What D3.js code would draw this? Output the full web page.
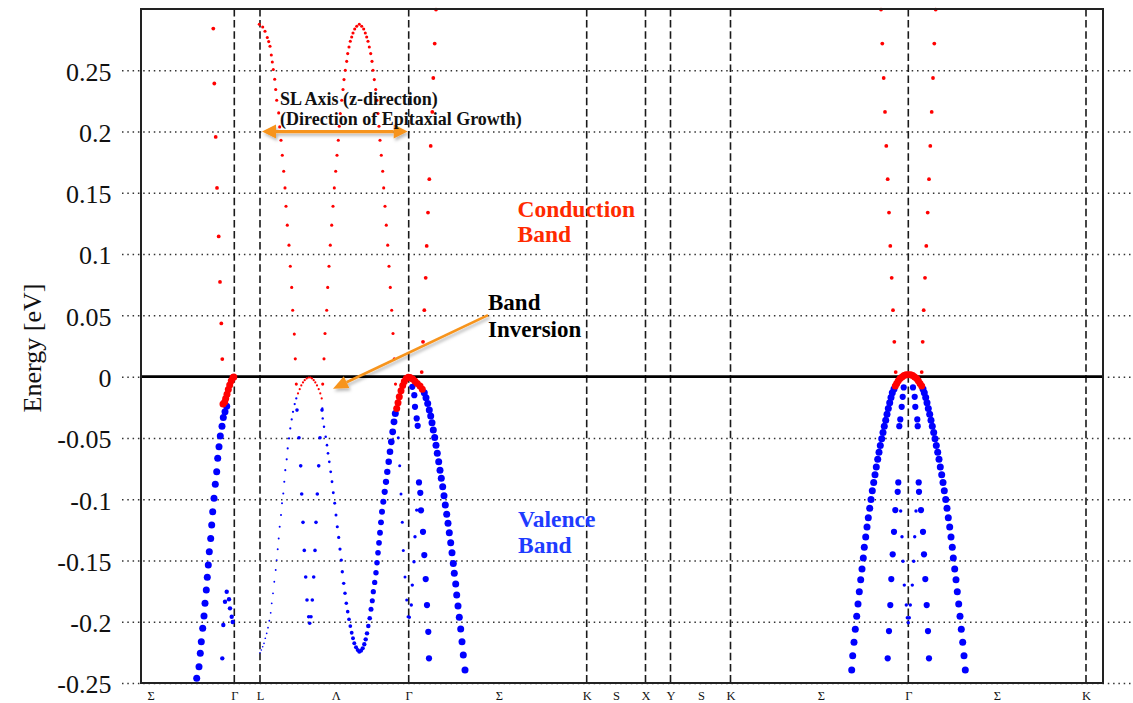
<!DOCTYPE html>
<html>
<head>
<meta charset="utf-8">
<script src="https://cdn.jsdelivr.net/npm/d3@7"></script>
<style>
  html, body { margin: 0; padding: 0; background: #fff; }
  svg { display: block; font-family: "Liberation Serif", "Times New Roman", serif; }
  svg text { font-family: "Liberation Serif", "Times New Roman", serif; }
</style>
</head>
<body>
<svg id="chart" width="1133" height="703"></svg>
<script>
// ---- k-path (arbitrary path units) and energy axis ----
const kRange = [0, 9.62];
const energyRange = [-0.25, 0.30];
const pathLabels = ["Σ", "Γ", "L", "Λ", "Γ", "Σ", "K", "S", "X", "Y", "S", "K", "Σ", "Γ", "Σ", "K"];
const pathLabelK = [0.097, 0.933, 1.19, 1.947, 2.677, 3.58, 4.457, 4.75, 5.045, 5.295, 5.6, 5.895, 6.8, 7.673, 8.56, 9.45];
const symmetryK = [0.933, 1.19, 2.677, 4.457, 5.045, 5.295, 5.895, 7.673, 9.45];
const energyTicks = [-0.25, -0.2, -0.15, -0.1, -0.05, 0, 0.05, 0.1, 0.15, 0.2, 0.25];
const energyTickLabels = ["-0.25", "-0.2", "-0.15", "-0.1", "-0.05", "0", "0.05", "0.1", "0.15", "0.2", "0.25"];

// ---- band points [k, E(eV)] ----
// first Γ
const vbGamma1 = [[0.557,-0.2462],[0.580,-0.2367],[0.593,-0.2258],[0.603,-0.2163],[0.617,-0.2054],[0.630,-0.1953],[0.640,-0.1850],[0.653,-0.1741],[0.663,-0.1638],[0.673,-0.1538],[0.683,-0.1429],[0.697,-0.1320],[0.707,-0.1211],[0.717,-0.1103],[0.730,-0.0993],[0.743,-0.0879],[0.757,-0.0777],[0.767,-0.0667],[0.780,-0.0573],[0.793,-0.0485],[0.810,-0.0404],[0.823,-0.0333],[0.840,-0.0287],[0.857,-0.0241]];
const capGamma1 = [[0.820,-0.0224],[0.837,-0.0206],[0.847,-0.0178],[0.860,-0.0143],[0.873,-0.0104],[0.887,-0.0069],[0.903,-0.0034],[0.920,-0.0007],[0.928,-0.0002]];
const innerGamma1 = [[0.857,-0.1755],[0.880,-0.1817],[0.840,-0.1837],[0.890,-0.1891],[0.907,-0.1959],[0.917,-0.2002],[0.823,-0.2027],[0.813,-0.2299]];
const cbGamma1 = [[0.723,0.2840],[0.733,0.2392],[0.747,0.1956],[0.760,0.1540],[0.777,0.1144],[0.790,0.0773],[0.803,0.0434],[0.813,0.0143]];

// L – Λ – Γ (superlattice axis)
const cbFromL = [[1.183,0.2875],[1.217,0.2853],[1.240,0.2818],[1.263,0.2767],[1.277,0.2734],[1.290,0.2696],[1.303,0.2625],[1.313,0.2568],[1.323,0.2506],[1.337,0.2427],[1.347,0.2343],[1.357,0.2255],[1.377,0.2152],[1.387,0.2038],[1.400,0.1929],[1.413,0.1807],[1.427,0.1676],[1.440,0.1540],[1.450,0.1391],[1.463,0.1236],[1.480,0.1073],[1.493,0.0901],[1.507,0.0728],[1.517,0.0542],[1.533,0.0347],[1.543,0.0145],[1.553,-0.0061]];
const cbHump = [[1.817,-0.0061],[1.830,0.0145],[1.840,0.0352],[1.857,0.0542],[1.867,0.0728],[1.880,0.0901],[1.893,0.1073],[1.907,0.1236],[1.920,0.1391],[1.933,0.1540],[1.947,0.1676],[1.960,0.1807],[1.973,0.1929],[1.983,0.2043],[1.993,0.2147],[2.007,0.2255],[2.020,0.2343],[2.030,0.2424],[2.043,0.2500],[2.057,0.2573],[2.067,0.2636],[2.080,0.2690],[2.093,0.2737],[2.107,0.2772],[2.120,0.2804],[2.137,0.2837],[2.157,0.2859],[2.183,0.2875],[2.207,0.2859],[2.227,0.2837],[2.243,0.2804],[2.257,0.2772],[2.270,0.2737],[2.283,0.2690],[2.297,0.2636],[2.310,0.2573],[2.320,0.2500],[2.333,0.2424],[2.347,0.2343],[2.360,0.2255],[2.370,0.2147],[2.380,0.2043],[2.390,0.1929],[2.403,0.1807],[2.417,0.1676],[2.427,0.1540],[2.440,0.1391],[2.453,0.1236],[2.467,0.1073],[2.480,0.0901],[2.493,0.0728],[2.507,0.0542],[2.520,0.0352],[2.533,0.0145],[2.545,-0.0061]];
const vbThinL = [[1.190,-0.2253],[1.203,-0.2231],[1.217,-0.2204],[1.230,-0.2176],[1.243,-0.2135],[1.257,-0.2095],[1.270,-0.2049],[1.283,-0.1992],[1.297,-0.1927],[1.307,-0.1850],[1.320,-0.1768],[1.333,-0.1674],[1.347,-0.1578],[1.357,-0.1497],[1.367,-0.1409],[1.377,-0.1320],[1.387,-0.1225],[1.400,-0.1130],[1.410,-0.1034],[1.423,-0.0953],[1.433,-0.0858],[1.443,-0.0763],[1.457,-0.0675],[1.467,-0.0586],[1.480,-0.0504],[1.493,-0.0423],[1.507,-0.0349],[1.520,-0.0287],[1.537,-0.0224],[1.553,-0.0178]];
const capHump = [[1.570,-0.0137],[1.587,-0.0102],[1.603,-0.0072],[1.620,-0.0047],[1.637,-0.0029],[1.657,-0.0015],[1.677,-0.0007],[1.693,-0.0007],[1.710,-0.0015],[1.727,-0.0029],[1.743,-0.0047],[1.760,-0.0072],[1.777,-0.0102],[1.793,-0.0137],[1.807,-0.0178]];
const vbThinR = [[1.813,-0.0260],[1.817,-0.0341],[1.830,-0.0409],[1.847,-0.0491],[1.860,-0.0559],[1.870,-0.0626],[1.883,-0.0695],[1.897,-0.0777],[1.910,-0.0858],[1.923,-0.0948],[1.937,-0.1034],[1.950,-0.1130],[1.963,-0.1225],[1.977,-0.1312],[1.990,-0.1407],[2.003,-0.1497],[2.013,-0.1592],[2.027,-0.1687],[2.040,-0.1768],[2.053,-0.1850],[2.067,-0.1918],[2.080,-0.1980],[2.093,-0.2035],[2.107,-0.2090],[2.120,-0.2135],[2.133,-0.2176],[2.150,-0.2209],[2.167,-0.2231],[2.183,-0.2245],[2.200,-0.2237],[2.217,-0.2217],[2.233,-0.2184],[2.247,-0.2144],[2.260,-0.2095],[2.273,-0.2035],[2.287,-0.1972]];
const humpPairs = [[1.560,-0.0273],[1.580,-0.0499],[1.597,-0.0728],[1.607,-0.0958],[1.620,-0.1189],[1.633,-0.1418],[1.647,-0.1635],[1.660,-0.1823],[1.677,-0.1959],[1.687,-0.2013],[1.810,-0.0273],[1.790,-0.0499],[1.777,-0.0728],[1.763,-0.0958],[1.750,-0.1189],[1.740,-0.1418],[1.727,-0.1635],[1.713,-0.1823],[1.700,-0.1959]];
const humpTail = [[2.573,-0.0499],[2.587,-0.0728],[2.600,-0.0958],[2.613,-0.1189],[2.623,-0.1418],[2.640,-0.1635],[2.657,-0.1823],[2.670,-0.1959]];
const vbLambda = [[2.300,-0.1899],[2.313,-0.1829],[2.323,-0.1755],[2.337,-0.1679],[2.350,-0.1600],[2.360,-0.1519],[2.370,-0.1437],[2.380,-0.1356],[2.390,-0.1274],[2.400,-0.1189],[2.410,-0.1103],[2.423,-0.1021],[2.437,-0.0940],[2.450,-0.0858],[2.463,-0.0777],[2.477,-0.0695],[2.490,-0.0613],[2.503,-0.0532],[2.517,-0.0450],[2.530,-0.0369],[2.543,-0.0300]];

// second Γ and Σ direction
const capGamma2 = [[2.557,-0.0259],[2.570,-0.0214],[2.583,-0.0165],[2.600,-0.0116],[2.617,-0.0072],[2.633,-0.0039],[2.653,-0.0015],[2.673,-0.0004],[2.690,-0.0007],[2.717,-0.0020],[2.740,-0.0037],[2.763,-0.0055],[2.790,-0.0077],[2.813,-0.0102]];
const vbSigma1 = [[2.833,-0.0132],[2.850,-0.0173],[2.867,-0.0219],[2.883,-0.0273],[2.897,-0.0322],[2.910,-0.0377],[2.923,-0.0436],[2.937,-0.0496],[2.950,-0.0559],[2.963,-0.0626],[2.977,-0.0695],[2.990,-0.0763],[3.003,-0.0830],[3.017,-0.0899],[3.030,-0.0972],[3.043,-0.1048],[3.057,-0.1122],[3.070,-0.1197],[3.083,-0.1274],[3.097,-0.1356],[3.110,-0.1437],[3.123,-0.1524],[3.133,-0.1605],[3.147,-0.1692],[3.157,-0.1782],[3.170,-0.1872],[3.183,-0.1964],[3.197,-0.2060],[3.210,-0.2163],[3.223,-0.2272],[3.240,-0.2394]];
const innerSigma1 = [[2.713,-0.0083],[2.733,-0.0151],[2.740,-0.0246],[2.757,-0.0341],[2.767,-0.0401],[2.780,-0.0863],[2.793,-0.0948],[2.800,-0.1091],[2.820,-0.1266],[2.833,-0.1456],[2.847,-0.1652],[2.860,-0.1864],[2.873,-0.2082],[2.880,-0.2299]];
const innerSigma1Small = [[2.757,-0.1089],[2.740,-0.1307],[2.730,-0.1511],[2.713,-0.1701],[2.703,-0.1864],[2.683,-0.1964]];
const cbSigma1 = [[2.950,0.2995],[2.937,0.2718],[2.923,0.2437],[2.913,0.2160],[2.897,0.1883],[2.883,0.1611],[2.870,0.1339],[2.857,0.1067],[2.847,0.0806],[2.833,0.0542],[2.820,0.0284],[2.807,0.0037]];

// third Γ (Σ – Γ – Σ)
const vbGamma3L = [[7.107,-0.2394],[7.117,-0.2277],[7.130,-0.2168],[7.143,-0.2062],[7.157,-0.1956],[7.170,-0.1856],[7.183,-0.1755],[7.197,-0.1657],[7.210,-0.1570],[7.223,-0.1480],[7.233,-0.1393],[7.247,-0.1309],[7.260,-0.1228],[7.273,-0.1152],[7.287,-0.1075],[7.300,-0.1002],[7.313,-0.0931],[7.327,-0.0863],[7.340,-0.0801],[7.353,-0.0738],[7.367,-0.0675],[7.380,-0.0618],[7.393,-0.0561],[7.407,-0.0507],[7.420,-0.0455],[7.433,-0.0404],[7.447,-0.0355],[7.460,-0.0306],[7.473,-0.0259],[7.487,-0.0214],[7.500,-0.0170],[7.513,-0.0132],[7.530,-0.0100]];
const capGamma3 = [[7.543,-0.0077],[7.557,-0.0055],[7.573,-0.0034],[7.590,-0.0015],[7.610,-0.0002],[7.630,0.0010],[7.650,0.0015],[7.673,0.0015],[7.697,0.0015],[7.717,0.0010],[7.737,-0.0002],[7.757,-0.0015],[7.773,-0.0034],[7.790,-0.0055],[7.807,-0.0077]];
const vbGamma3R = [[7.820,-0.0100],[7.833,-0.0132],[7.847,-0.0170],[7.860,-0.0214],[7.873,-0.0259],[7.887,-0.0306],[7.900,-0.0355],[7.913,-0.0404],[7.927,-0.0455],[7.940,-0.0507],[7.953,-0.0561],[7.967,-0.0618],[7.980,-0.0675],[7.993,-0.0738],[8.007,-0.0801],[8.020,-0.0863],[8.033,-0.0931],[8.047,-0.1002],[8.060,-0.1075],[8.073,-0.1152],[8.087,-0.1228],[8.100,-0.1309],[8.113,-0.1393],[8.123,-0.1480],[8.137,-0.1570],[8.150,-0.1657],[8.163,-0.1755],[8.177,-0.1856],[8.190,-0.1956],[8.203,-0.2062],[8.217,-0.2168],[8.230,-0.2277],[8.243,-0.2394]];
const innerGamma3 = [[7.627,-0.0088],[7.720,-0.0088],[7.617,-0.0165],[7.737,-0.0165],[7.607,-0.0246],[7.743,-0.0246],[7.593,-0.0349],[7.763,-0.0349],[7.583,-0.0404],[7.767,-0.0404],[7.573,-0.0863],[7.777,-0.0863],[7.567,-0.0940],[7.780,-0.0940],[7.543,-0.1089],[7.800,-0.1089],[7.530,-0.1266],[7.820,-0.1266],[7.517,-0.1450],[7.830,-0.1450],[7.503,-0.1652],[7.843,-0.1652],[7.493,-0.1864],[7.857,-0.1864],[7.480,-0.2076],[7.870,-0.2076],[7.467,-0.2299],[7.880,-0.2299]];
const innerGamma3Small = [[7.597,-0.1097],[7.750,-0.1097],[7.610,-0.1307],[7.737,-0.1307],[7.620,-0.1507],[7.727,-0.1507],[7.633,-0.1701],[7.713,-0.1701],[7.653,-0.1864],[7.693,-0.1864],[7.663,-0.1967],[7.683,-0.1967],[7.673,-0.2008]];
const cbGamma3L = [[7.400,0.2995],[7.413,0.2718],[7.427,0.2437],[7.440,0.2160],[7.453,0.1883],[7.467,0.1611],[7.480,0.1339],[7.493,0.1067],[7.507,0.0806],[7.520,0.0542],[7.533,0.0284],[7.547,0.0037]];
const cbGamma3R = [[7.947,0.2995],[7.933,0.2718],[7.920,0.2437],[7.907,0.2160],[7.893,0.1883],[7.880,0.1611],[7.867,0.1339],[7.853,0.1067],[7.840,0.0806],[7.827,0.0542],[7.817,0.0284],[7.807,0.0037]];

// ---- layout ----
const SERIF = "'Liberation Serif','Times New Roman',serif";
const svg = d3.select("#chart");
const x = d3.scaleLinear().domain(kRange).range([141, 1103]);
const y = d3.scaleLinear().domain(energyRange).range([683, 9]);

const BLUE = "#0000ff", RED = "#ff0000", ORANGE = "#f7941d";

const defs = svg.append("defs");
const shadow = defs.append("filter").attr("id", "soft").attr("x", "-20%").attr("y", "-50%").attr("width", "140%").attr("height", "200%");
shadow.append("feDropShadow").attr("dx", 1.5).attr("dy", 2.5).attr("stdDeviation", 1.6)
  .attr("flood-color", "#000").attr("flood-opacity", 0.28);

// dotted energy grid with left tick labels (grid runs past the frame)
const yAxis = d3.axisLeft(y)
  .tickValues(energyTicks)
  .tickFormat((d, i) => energyTickLabels[i])
  .tickSizeInner(-(1133 - 122))
  .tickSizeOuter(0)
  .tickPadding(10.5);
const gy = svg.append("g").attr("transform", "translate(122,0)").call(yAxis)
  .attr("font-family", SERIF);
gy.select(".domain").remove();
gy.selectAll(".tick line")
  .attr("stroke", "#333").attr("stroke-width", 1.5).attr("stroke-dasharray", "1.5 3.8");
gy.selectAll(".tick text")
  .attr("fill", "#111").attr("font-size", 26).attr("dy", "0.38em")
  .style("font-family", SERIF);

// dashed lines at high-symmetry points
svg.append("g").selectAll("line").data(symmetryK).join("line")
  .attr("x1", d => x(d)).attr("x2", d => x(d))
  .attr("y1", y(energyRange[1])).attr("y2", y(energyRange[0]))
  .attr("stroke", "#1a1a1a").attr("stroke-width", 1.6).attr("stroke-dasharray", "7.5 3.6");

// k-path labels
const xAxis = d3.axisBottom(x)
  .tickValues(pathLabelK)
  .tickFormat((d, i) => pathLabels[i])
  .tickSize(0)
  .tickPadding(8);
const gx = svg.append("g").attr("transform", `translate(0,${y(energyRange[0])})`).call(xAxis)
  .attr("font-family", SERIF);
gx.select(".domain").remove();
gx.selectAll(".tick text").attr("fill", "#111").attr("font-size", 12.5)
  .style("font-family", SERIF);

// Fermi level reference
svg.append("line")
  .attr("x1", x(kRange[0])).attr("x2", x(kRange[1]))
  .attr("y1", y(0)).attr("y2", y(0))
  .attr("stroke", "#000").attr("stroke-width", 2.8);

// ---- band layers (drawn back to front) ----
const grow = (a, b) => (d, i, n) => a + (b - a) * (n.length > 1 ? i / (n.length - 1) : 0);
const layers = [
  { data: vbThinL, fill: BLUE, r: grow(0.8, 1.15) },
  { data: vbThinR, fill: BLUE, r: grow(1.15, 2.3) },
  { data: vbLambda, fill: BLUE, r: grow(2.5, 3.5) },
  { data: humpPairs, fill: BLUE, r: () => 1.8 },
  { data: humpTail, fill: BLUE, r: () => 1.5 },
  { data: vbGamma1, fill: BLUE, r: () => 3.5 },
  { data: innerGamma1, fill: BLUE, r: () => 2.2 },
  { data: vbSigma1, fill: BLUE, r: () => 3.5 },
  { data: innerSigma1, fill: BLUE, r: () => 3.1 },
  { data: innerSigma1Small, fill: BLUE, r: () => 1.7 },
  { data: vbGamma3L, fill: BLUE, r: () => 3.5 },
  { data: vbGamma3R, fill: BLUE, r: () => 3.5 },
  { data: innerGamma3, fill: BLUE, r: () => 3.1 },
  { data: innerGamma3Small, fill: BLUE, r: () => 1.7 },
  { data: capGamma1, fill: RED, r: () => 3.5 },
  { data: capGamma2, fill: RED, r: () => 3.5 },
  { data: capGamma3, fill: RED, r: () => 3.5 },
  { data: capHump, fill: RED, r: () => 1.1 },
  { data: cbGamma1, fill: RED, r: () => 1.9 },
  { data: cbFromL, fill: RED, r: () => 1.55 },
  { data: cbHump, fill: RED, r: () => 1.55 },
  { data: cbSigma1, fill: RED, r: () => 1.9 },
  { data: cbGamma3L, fill: RED, r: () => 1.9 },
  { data: cbGamma3R, fill: RED, r: () => 1.9 }
];
const bands = svg.append("g");
layers.forEach(layer => {
  bands.append("g").selectAll("circle").data(layer.data).join("circle")
    .attr("cx", d => x(d[0]))
    .attr("cy", d => y(d[1]))
    .attr("r", layer.r)
    .attr("fill", layer.fill);
});

// plot frame
svg.append("rect")
  .attr("x", x(kRange[0])).attr("y", y(energyRange[1]))
  .attr("width", x(kRange[1]) - x(kRange[0]))
  .attr("height", y(energyRange[0]) - y(energyRange[1]))
  .attr("fill", "none").attr("stroke", "#222").attr("stroke-width", 2);

// axis title
svg.append("text")
  .attr("transform", `translate(41,${(y(energyRange[0]) + y(energyRange[1])) / 2 + 2}) rotate(-90)`)
  .attr("text-anchor", "middle").attr("font-size", 26).attr("fill", "#111")
  .style("font-family", SERIF)
  .text("Energy [eV]");

// ---- annotations ----
function arrowHead(g, tip, from, len, half) {
  const ang = Math.atan2(tip[1] - from[1], tip[0] - from[0]);
  const bx = tip[0] - len * Math.cos(ang), by = tip[1] - len * Math.sin(ang);
  const px = -Math.sin(ang) * half, py = Math.cos(ang) * half;
  g.append("path")
    .attr("d", `M${tip[0]},${tip[1]}L${bx + px},${by + py}L${bx - px},${by - py}Z`)
    .attr("fill", ORANGE);
  return [bx, by];
}

// superlattice axis double arrow
const sl = svg.append("g").attr("filter", "url(#soft)");
const slA = [x(1.21), y(0.2)], slB = [x(2.667), y(0.2)];
const slA2 = arrowHead(sl, slA, slB, 14, 7);
const slB2 = arrowHead(sl, slB, slA, 14, 7);
sl.append("line").attr("x1", slA2[0]).attr("y1", slA2[1]).attr("x2", slB2[0]).attr("y2", slB2[1])
  .attr("stroke", ORANGE).attr("stroke-width", 3.2);

// band inversion pointer
const bi = svg.append("g").attr("filter", "url(#soft)");
const biFrom = [x(3.47), y(0.0502)], biTip = [x(1.92), y(-0.0098)];
const biBase = arrowHead(bi, biTip, biFrom, 15, 6.5);
bi.append("line").attr("x1", biFrom[0]).attr("y1", biFrom[1]).attr("x2", biBase[0]).attr("y2", biBase[1])
  .attr("stroke", ORANGE).attr("stroke-width", 2.6);

const notes = [
  { k: 1.39, e: 0.2219, text: "SL Axis (z-direction)", size: 18, fill: "#111" },
  { k: 1.39, e: 0.2051, text: "(Direction of Epitaxial Growth)", size: 18, fill: "#111" },
  { k: 3.765, e: 0.1303, text: "Conduction", size: 23.5, fill: "#ff2a00" },
  { k: 3.765, e: 0.1100, text: "Band", size: 23.5, fill: "#ff2a00" },
  { k: 3.47, e: 0.0542, text: "Band", size: 23, fill: "#000" },
  { k: 3.47, e: 0.0325, text: "Inversion", size: 23, fill: "#000" },
  { k: 3.77, e: -0.1223, text: "Valence", size: 23.5, fill: "#1e3cff" },
  { k: 3.77, e: -0.1436, text: "Band", size: 23.5, fill: "#1e3cff" }
];
svg.append("g").selectAll("text").data(notes).join("text")
  .attr("x", d => x(d.k)).attr("y", d => y(d.e))
  .attr("font-size", d => d.size).attr("font-weight", "bold")
  .attr("fill", d => d.fill)
  .style("font-family", SERIF)
  .text(d => d.text);
</script>
</body>
</html>
